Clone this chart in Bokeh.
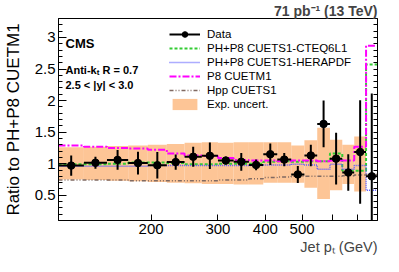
import numpy as np
from bokeh.plotting import figure
from bokeh.models import (Range1d, FixedTicker, SingleIntervalTicker, LinearAxis,
                          Label, Legend, LegendItem, ColumnDataSource, Title)
from bokeh.embed import file_html
from bokeh.resources import INLINE

# ---- data ----
pt_edges = [114, 133, 153, 174, 196, 220, 245, 272, 300, 330, 362, 395,
            430, 468, 507, 548, 592, 638, 686, 737, 790]
data_ratio = [0.97, 1.015, 1.06, 1.01, 0.975, 1.025, 1.11, 1.125, 1.05, 1.03,
              0.98, 1.15, 1.065, 0.83, 1.13, 1.63, 1.08, 0.86, 1.185, 0.80]
data_err = [0.16, 0.095, 0.155, 0.18, 0.21, 0.12, 0.16, 0.21, 0.06, 0.14,
            0.085, 0.17, 0.105, 0.135, 0.17, 0.37, 0.41, 0.29, 0.82, 1.31]
band_low = [0.75, 0.74, 0.73, 0.72, 0.71, 0.70, 0.69, 0.68, 0.68, 0.67,
            0.67, 0.70, 0.70, 0.70, 0.62, 0.44, 0.58, 0.68, 0.56, float("nan")]
band_high = [1.26, 1.27, 1.28, 1.29, 1.30, 1.31, 1.33, 1.34, 1.33, 1.34,
             1.34, 1.34, 1.34, 1.29, 1.37, 1.57, 1.38, 1.30, 1.43, float("nan")]
cteq6l1 = [0.99, 0.99, 1.00, 1.02, 1.02, 1.01, 0.99, 0.99, 1.00, 1.00,
           1.00, 1.03, 1.04, 1.03, 1.04, 1.04, 1.16, 0.89, 0.89, 2.57]
herapdf = [0.96, 0.96, 0.96, 0.96, 0.97, 0.97, 0.97, 0.97, 0.97, 0.97,
           0.97, 0.98, 0.98, 0.99, 0.98, 0.91, 0.99, 0.91, 0.97, 0.58]
p8_cuetm1 = [1.29, 1.27, 1.25, 1.24, 1.22, 1.16, 1.13, 1.12, 1.09, 1.06,
             1.05, 1.05, 1.04, 1.05, 1.05, 1.04, 1.05, 1.05, 1.27, 2.87]
hpp_cuets1 = [0.74, 0.74, 0.74, 0.73, 0.73, 0.73, 0.73, 0.73, 0.74, 0.74,
              0.76, 0.78, 0.79, 0.80, 0.80, 0.80, 0.80, 0.81, 0.82, 0.83]
x_tick_values = [200, 300, 400, 500]
x_minor_ticks = [600, 700]
y_right_ticks = [0.2, 0.3, 0.4, 0.5, 0.6, 0.7, 0.8, 0.9, 1.0, 1.1, 1.2, 1.3,
                 1.4, 1.5, 1.6, 1.7, 1.8, 1.9, 2.0, 2.1, 2.2, 2.3, 2.4, 2.5,
                 2.6, 2.7, 2.8, 2.9, 3.0, 3.1, 3.2]

FONT = "Liberation Sans"

lo = np.array(pt_edges[:-1], dtype=float)
hi = np.array(pt_edges[1:], dtype=float)
ctr = np.sqrt(lo * hi)
r = np.array(data_ratio)
e = np.array(data_err)

p = figure(width=383, height=256, x_axis_type="log",
           x_range=Range1d(114, 790), y_range=Range1d(0.1, 3.3),
           output_backend="svg", toolbar_location=None,
           min_border_left=56, min_border_right=6,
           min_border_top=18, min_border_bottom=36)
p.grid.visible = False
p.outline_line_color = "black"
p.outline_line_width = 1
p.background_fill_color = "white"
p.border_fill_color = "white"

# title (top right)
p.title.text = "71 pb\u207b\u00b9 (13 TeV)"
p.title.align = "right"
p.title.text_font = FONT
p.title.text_font_size = "14px"
p.title.text_font_style = "bold"
p.title.standoff = 0

# band
band_src = ColumnDataSource(dict(left=lo, right=hi, bottom=band_low, top=band_high))
r_band = p.quad(left="left", right="right", bottom="bottom", top="top",
                source=band_src, fill_color="#fdc596", line_color=None)

def step(vals, color, dash, width):
    return p.step(x=pt_edges, y=list(vals) + [vals[-1]], mode="after",
                  line_color=color, line_dash=dash, line_width=width)

r_cteq = step(cteq6l1, "#33cc33", "3 2", 2)
r_hera = step(herapdf, "#5a5aff", "1 1", 1.5)
r_p8 = step(p8_cuetm1, "#ff00ff", "7 2 2 2", 2)
r_hpp = step(hpp_cuets1, "#806a62", "4 2 1 2 1 2", 1.5)

# data
dsrc = ColumnDataSource(dict(x=ctr, y=r, lo=lo, hi=hi, ylo=r - e, yhi=r + e))
r_xerr = p.segment(x0="lo", x1="hi", y0="y", y1="y", source=dsrc,
                   line_color="black", line_width=2)
p.segment(x0="x", x1="x", y0="ylo", y1="yhi", source=dsrc,
          line_color="black", line_width=2)
r_pts = p.scatter(x="x", y="y", source=dsrc, size=7.5, marker="circle",
                  fill_color="black", line_color="black")

# axes
xa = p.xaxis[0]
xa.ticker = FixedTicker(ticks=x_tick_values, minor_ticks=x_minor_ticks)
xa.major_label_overrides = {v: str(v) for v in x_tick_values}
ya = p.yaxis[0]
ya.ticker = SingleIntervalTicker(interval=0.5, num_minor_ticks=5)
for ax in (xa, ya):
    ax.axis_line_color = "black"
    ax.major_tick_line_color = "black"
    ax.minor_tick_line_color = "black"
    ax.major_tick_out = 0
    ax.minor_tick_out = 0
    ax.major_label_text_font = FONT
    ax.major_label_text_font_size = "15px"
    ax.major_label_text_color = "black"
xa.major_tick_in = 6
xa.minor_tick_in = 6
xa.major_label_standoff = 3
ya.major_tick_in = 8
ya.minor_tick_in = 4
ya.major_label_standoff = 3
ya.axis_label = "Ratio to PH+P8 CUETM1"
ya.axis_label_text_font = FONT
ya.axis_label_text_font_size = "17px"
ya.axis_label_text_font_style = "normal"
ya.axis_label_text_color = "black"
ya.axis_label_standoff = 9

ra = LinearAxis(ticker=FixedTicker(ticks=[], minor_ticks=y_right_ticks))
ra.major_tick_out = 0
ra.minor_tick_out = 0
ra.minor_tick_in = 4
ra.axis_line_color = "black"
ra.minor_tick_line_color = "black"
p.add_layout(ra, "right")

# x-axis title, right aligned under the frame
xt = Title(text="Jet p\u209c (GeV)", align="right", text_font=FONT,
           text_font_size="14.5px", text_font_style="normal", standoff=0)
p.add_layout(xt, "below")

# legend
legend = Legend(items=[
    LegendItem(label="Data", renderers=[r_xerr, r_pts]),
    LegendItem(label="PH+P8 CUETS1-CTEQ6L1", renderers=[r_cteq]),
    LegendItem(label="PH+P8 CUETS1-HERAPDF", renderers=[r_hera]),
    LegendItem(label="P8 CUETM1", renderers=[r_p8]),
    LegendItem(label="Hpp CUETS1", renderers=[r_hpp]),
    LegendItem(label="Exp. uncert.", renderers=[r_band]),
], location=(111, 109))
legend.border_line_color = None
legend.background_fill_alpha = 0
legend.padding = 0
legend.spacing = 0
legend.glyph_width = 31
legend.glyph_height = 14
legend.label_height = 14
legend.label_standoff = 7
legend.label_text_font = FONT
legend.label_text_font_size = "11.5px"
legend.label_text_color = "black"
p.add_layout(legend)

def lab(text, x, y, size, bold=True):
    p.add_layout(Label(x=x, y=y, x_units="screen", y_units="screen", text=text,
                       text_font=FONT, text_font_size=size,
                       text_font_style="bold" if bold else "normal",
                       text_align="left", text_baseline="alphabetic",
                       text_color="black"))

lab("CMS", 7, 176.7, "13px")
lab("Anti-k", 7, 150.8, "11px")
lab("t", 38.2, 148.4, "8px")
lab("R = 0.7", 44, 150.8, "11px")
lab("2.5 < |y| < 3.0", 7, 135.4, "11px")

open("out.html", "w").write(file_html(p, INLINE))
